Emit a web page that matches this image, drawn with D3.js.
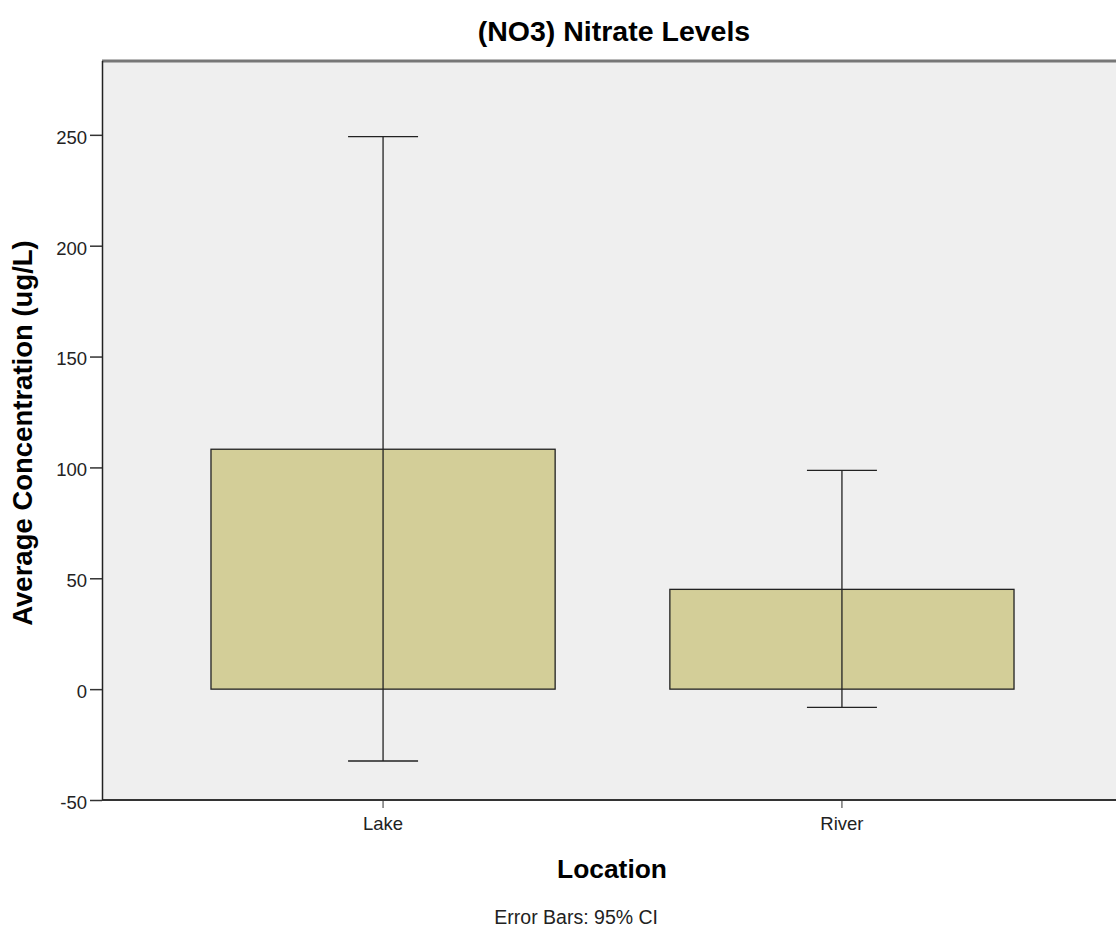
<!DOCTYPE html>
<html><head><meta charset="utf-8">
<script src="https://cdn.jsdelivr.net/npm/d3@7"></script>
<style>body{margin:0;background:#fff;} svg{display:block;}</style>
</head><body>
<script>
const categories = ["Lake", "River"];
const means = [108.2, 45.0];
const ciLower = [-32.4, -8.2];
const ciUpper = [249.2, 98.7];
const yTicks = [-50, 0, 50, 100, 150, 200, 250];
const title = "(NO3) Nitrate Levels";
const xTitle = "Location";
const yTitle = "Average Concentration (ug/L)";
const footnote = "Error Bars: 95% CI";

const W = 1116, H = 941;
const mLeft = 102, mTop = 61, mBottom = 800, mRight = 1123;
const svg = d3.select("body").append("svg").attr("width", W).attr("height", H);
const font = "Liberation Sans, Arial, sans-serif";

const y = d3.scaleLinear().domain([-50, 283.3]).range([mBottom, mTop]);
const x = d3.scaleBand().domain(categories).range([mLeft, mRight]).paddingInner(0.25).paddingOuter(0.2375);

svg.append("rect").attr("x", mLeft).attr("y", mTop).attr("width", mRight - mLeft).attr("height", mBottom - mTop)
  .attr("fill", "#efefef");

// bars
svg.selectAll("rect.bar").data(categories).join("rect").attr("class", "bar")
  .attr("x", d => x(d)).attr("width", x.bandwidth())
  .attr("y", (d, i) => y(means[i])).attr("height", (d, i) => y(0) - y(means[i]))
  .attr("fill", "#d3ce98").attr("stroke", "#222").attr("stroke-width", 1.3);

// error bars
const cx = d => x(d) + x.bandwidth() / 2;
const capW = 35;
const eb = svg.selectAll("g.eb").data(categories).join("g").attr("class", "eb")
  .attr("stroke", "#222").attr("stroke-width", 1.3);
eb.append("line").attr("x1", cx).attr("x2", cx).attr("y1", (d, i) => y(ciLower[i])).attr("y2", (d, i) => y(ciUpper[i]));
eb.append("line").attr("x1", d => cx(d) - capW).attr("x2", d => cx(d) + capW).attr("y1", (d, i) => y(ciUpper[i])).attr("y2", (d, i) => y(ciUpper[i]));
eb.append("line").attr("x1", d => cx(d) - capW).attr("x2", d => cx(d) + capW).attr("y1", (d, i) => y(ciLower[i])).attr("y2", (d, i) => y(ciLower[i]));

// frame
svg.append("line").attr("x1", mLeft).attr("x2", W).attr("y1", mTop).attr("y2", mTop).attr("stroke", "#777").attr("stroke-width", 3);
svg.append("line").attr("x1", mLeft).attr("x2", W).attr("y1", mBottom).attr("y2", mBottom).attr("stroke", "#333").attr("stroke-width", 2);

// y axis
const yAxis = svg.append("g").attr("transform", `translate(${mLeft},0)`)
  .call(d3.axisLeft(y).tickValues(yTicks).tickSize(12).tickPadding(3).tickFormat(d => String(d)));
yAxis.select(".domain").attr("stroke", "#222").attr("stroke-width", 1.5).attr("d", `M0.5,${mTop}V${mBottom}`);
yAxis.selectAll(".tick line").attr("stroke", "#333").attr("stroke-width", 1.5);
yAxis.selectAll("text").attr("font-family", font).attr("font-size", 18.5).attr("fill", "#222").attr("dy", "0.45em");

// x axis
const xAxis = svg.append("g").attr("transform", `translate(0,${mBottom})`)
  .call(d3.axisBottom(x).tickSize(8).tickPadding(9));
xAxis.select(".domain").remove();
xAxis.selectAll(".tick line").attr("stroke", "#333");
xAxis.selectAll("text").attr("font-family", font).attr("font-size", 18.5).attr("fill", "#222");

// titles
svg.append("text").attr("x", 614).attr("y", 41).attr("text-anchor", "middle")
  .attr("font-family", font).attr("font-size", 28.5).attr("font-weight", "bold").text(title);
svg.append("text").attr("x", 612).attr("y", 878).attr("text-anchor", "middle")
  .attr("font-family", font).attr("font-size", 26.4).attr("font-weight", "bold").text(xTitle);
svg.append("text").attr("transform", "translate(32,433) rotate(-90)").attr("text-anchor", "middle")
  .attr("font-family", font).attr("font-size", 27.5).attr("font-weight", "bold").text(yTitle);
svg.append("text").attr("x", 658).attr("y", 924).attr("text-anchor", "end")
  .attr("font-family", font).attr("font-size", 19.5).attr("fill", "#222").text(footnote);
</script>
</body></html>
